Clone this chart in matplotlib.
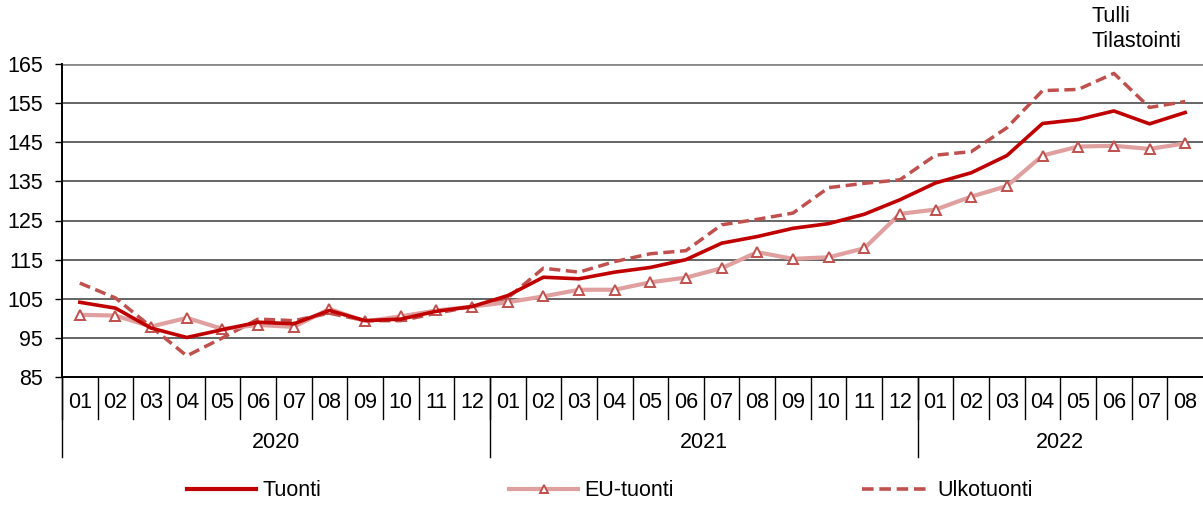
import numpy as np
import matplotlib.pyplot as plt
from matplotlib.lines import Line2D

plt.rcParams['font.family'] = ['Liberation Sans', 'DejaVu Sans']

# -------------------------
# DATA
# -------------------------
years = ["2020", "2021", "2022"]
months = (["01", "02", "03", "04", "05", "06", "07", "08", "09", "10", "11", "12"] * 2
          + ["01", "02", "03", "04", "05", "06", "07", "08"])

tuonti = [104.1, 102.6, 97.5, 95.1, 97.1, 99.0, 98.6, 102.0, 99.4, 99.8, 101.8, 103.0,
          105.8, 110.5, 110.1, 111.8, 113.0, 115.0, 119.2, 120.9, 123.0, 124.2, 126.6, 130.3,
          134.6, 137.2, 141.6, 149.8, 150.8, 153.0, 149.7, 152.6]
eu_tuonti = [100.9, 100.7, 97.9, 100.1, 97.3, 98.3, 97.8, 102.4, 99.2, 100.5, 102.0, 103.0,
             104.1, 105.6, 107.3, 107.3, 109.2, 110.4, 112.8, 116.9, 115.2, 115.6, 117.9, 126.7,
             127.8, 131.1, 133.8, 141.6, 143.9, 144.1, 143.3, 144.7]
ulkotuonti = [109.0, 105.2, 97.8, 90.4, 95.0, 99.8, 99.4, 101.3, 99.4, 99.4, 101.3, 103.0,
              105.2, 112.8, 111.8, 114.5, 116.5, 117.3, 123.9, 125.3, 126.9, 133.4, 134.5, 135.4,
              141.7, 142.6, 148.7, 158.2, 158.5, 162.6, 153.9, 155.4]
year_counts = [12, 12, 8]

y_ticks = [85, 95, 105, 115, 125, 135, 145, 155, 165]

FS = 15.5

# -------------------------
# FIGURE
# -------------------------
fig = plt.figure(figsize=(12.03, 5.05), dpi=100)
ax = fig.add_axes([62 / 1203, 128 / 505, 1 - 62 / 1203, (377 - 64) / 505])

x = np.arange(len(months))
ax.plot(x, ulkotuonti, color='#C0504D', lw=2.5, ls=(0, (3.2, 1.6)), zorder=3,
        label='Ulkotuonti')
ax.plot(x, eu_tuonti, color='#E0A0A0', lw=3, marker='^', ms=7,
        mfc='white', mec='#C0504D', mew=1.4, zorder=4, label='EU-tuonti')
ax.plot(x, tuonti, color='#C00000', lw=2.6, zorder=5, label='Tuonti')

ax.set_xlim(-0.5, len(months) - 0.5)
ax.set_ylim(85, 165)
ax.set_yticks(y_ticks)
ax.set_yticklabels([str(v) for v in y_ticks], fontsize=FS)
for v in y_ticks[1:-1]:
    ax.axhline(v, color='#3a3a3a', lw=1.1, zorder=1)
ax.axhline(165, color='#8a8a8a', lw=2, zorder=1)

for s in ['top', 'right']:
    ax.spines[s].set_visible(False)
ax.spines['left'].set_linewidth(1.4)
ax.spines['bottom'].set_linewidth(1.4)
ax.tick_params(axis='y', direction='out', length=5, width=1, pad=8.5)
ax.set_xticks([])

# month labels and separators
trans = ax.get_xaxis_transform()
px = 1 / 313
for i, m in enumerate(months):
    ax.text(i, -26 * px, m, transform=trans, ha='center', va='center', fontsize=FS)
for i in range(len(months)):
    ax.plot([i - 0.5, i - 0.5], [0, -42 * px], transform=trans, color='black',
            lw=1, clip_on=False)

# year labels and dividers
start = 0
for yr, n in zip(years, year_counts):
    ax.text(start + n / 2 - 0.5, -66 * px, yr, transform=trans, ha='center',
            va='center', fontsize=FS)
    ax.plot([start - 0.5, start - 0.5], [0, -80 * px], transform=trans,
            color='black', lw=1, clip_on=False)
    start += n

fig.text(1092 / 1203, 1 - 6 / 505, "Tulli\nTilastointi", ha='left', va='top',
         fontsize=FS, linespacing=1.25)

handles = [Line2D([], [], color='#C00000', lw=3),
           Line2D([], [], color='#E0A0A0', lw=3, marker='^', ms=6,
                  mfc='white', mec='#C0504D', mew=1.4),
           Line2D([], [], color='#C0504D', lw=2.6, ls=(0, (3.2, 1.6)))]
fig.legend(handles, ['Tuonti', 'EU-tuonti', 'Ulkotuonti'], loc='center',
           bbox_to_anchor=(610 / 1203, 14 / 505), ncol=3, frameon=False,
           fontsize=FS, handlelength=3.2, handletextpad=0.3, columnspacing=8.75)

fig.savefig('out.png', dpi=100)
